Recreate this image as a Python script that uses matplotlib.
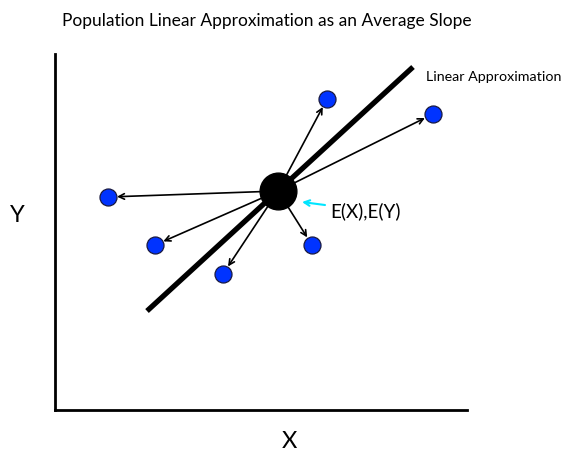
import matplotlib.pyplot as plt

plt.rcParams['font.family'] = ['Lato', 'DejaVu Sans']

# Observation points (x, y) and population mean
px = [53, 100, 168, 257, 272, 378]
py = [213, 165, 136, 165, 311, 296]
mean_x, mean_y = 223, 219

# Linear approximation line endpoints
line_x = [92, 358]
line_y = [99, 343]

fig = plt.figure(figsize=(5.66, 4.6), dpi=100)
ax = fig.add_axes([0.0972, 0.1065, 0.7279, 0.7739])
ax.set_xlim(0, 412)
ax.set_ylim(0, 356)

for s in ['top', 'right']:
    ax.spines[s].set_visible(False)
for s in ['left', 'bottom']:
    ax.spines[s].set_linewidth(2)
ax.set_xticks([])
ax.set_yticks([])

# Linear approximation
ax.plot(line_x, line_y, color='black', linewidth=3.8, solid_capstyle='butt', zorder=2)

# Arrows from the mean to each point
for x, y in zip(px, py):
    ax.annotate('', xy=(x, y), xytext=(mean_x, mean_y),
                arrowprops=dict(arrowstyle='->', color='black', lw=1.2,
                                shrinkA=0, shrinkB=6.5, mutation_scale=10),
                zorder=3)

ax.scatter(px, py, s=150, color='#0033ff', edgecolors='#1a1a40', linewidths=0.9, zorder=4)
ax.scatter([mean_x], [mean_y], s=700, color='black', zorder=4)

# Label for the mean
ax.annotate('', xy=(247, 208), xytext=(270, 205),
            arrowprops=dict(arrowstyle='->', color='#00e5ff', lw=1.5,
                            shrinkA=0, shrinkB=0, mutation_scale=10))
ax.text(275, 200, 'E(X),E(Y)', fontsize=13.5, va='center', ha='left')
ax.text(371, 334, 'Linear Approximation', fontsize=10.3, va='center', ha='left')

fig.text(0.472, 0.955, 'Population Linear Approximation as an Average Slope',
         fontsize=12.5, ha='center', va='center')
fig.text(0.031, 0.531, 'Y', fontsize=17, ha='center', va='center')
fig.text(0.512, 0.04, 'X', fontsize=17, ha='center', va='center')

fig.savefig('out.png', dpi=100)
